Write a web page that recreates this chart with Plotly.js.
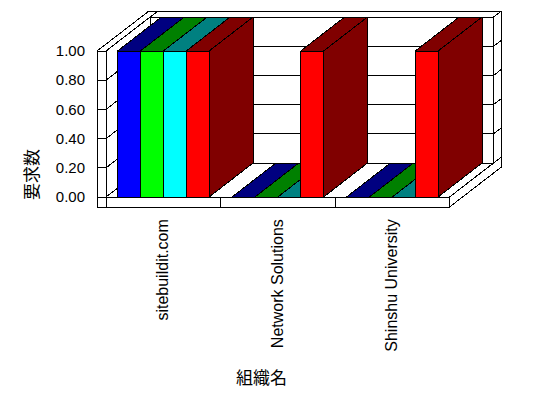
<!DOCTYPE html>
<html>
<head>
<meta charset="utf-8">
<script src="https://cdn.plot.ly/plotly-3.0.1.min.js"></script>
<style>
  html, body { margin: 0; padding: 0; background: #fff; }
  #chart { width: 548px; height: 398px; }
  .scatterlayer path { shape-rendering: crispEdges; }
</style>
</head>
<body>
<div id="chart"></div>
<script>
// ---- data ----
const categories = ['sitebuildit.com', 'Network Solutions', 'Shinshu University'];
const series1 = [1, 0, 0];
const series2 = [1, 0, 0];
const series3 = [1, 0, 0];
const series4 = [1, 1, 1];
const yTickVals = [0, 0.2, 0.4, 0.6, 0.8, 1.0];
const yTickText = ['0.00', '0.20', '0.40', '0.60', '0.80', '1.00'];
const xTitle = '組織名';
const yTitle = '要求数';

// ---- styles ----
const frontColors = ['#0000FF', '#00FF00', '#00FFFF', '#FF0000'];
const darkColors  = ['#000080', '#008000', '#008080', '#800000'];
const seriesList = [series1, series2, series3, series4];

// geometry (in axis units)
const DX = 0.384, DY = 0.2329;      // depth of bars / back-wall front plane
const TX = 0.066, TY = 0.039;       // back-wall slab thickness
const WALL = 0.0786;                // left wall thickness
const FLOOR = 0.0685;               // floor thickness
const GROUP = 0.8;
const nS = seriesList.length;
const BW = GROUP / nS;
const x0c = -0.5, x1c = categories.length - 0.5;
const yTop = yTickVals[yTickVals.length - 1];

const traces = [];
function poly(xs, ys, fill) {
  traces.push({
    type: 'scatter', mode: 'lines',
    x: xs.concat([xs[0]]), y: ys.concat([ys[0]]),
    fill: fill ? 'toself' : 'none', fillcolor: fill || undefined,
    line: {color: '#000', width: 1},
    hoverinfo: 'skip', showlegend: false, cliponaxis: false
  });
}
function seg(xa, ya, xb, yb) {
  traces.push({
    type: 'scatter', mode: 'lines', x: [xa, xb], y: [ya, yb],
    line: {color: '#000', width: 1}, hoverinfo: 'skip', showlegend: false, cliponaxis: false
  });
}

// back wall slab
poly([x0c + DX, x1c + DX, x1c + DX, x0c + DX], [DY, DY, yTop + DY, yTop + DY], '#FFFFFF');
poly([x0c + DX, x1c + DX, x1c + DX + TX, x0c + DX + TX],
     [yTop + DY, yTop + DY, yTop + DY + TY, yTop + DY + TY], '#FFFFFF');
poly([x1c + DX, x1c + DX + TX, x1c + DX + TX, x1c + DX],
     [DY, DY + TY, yTop + DY + TY, yTop + DY], '#FFFFFF');
yTickVals.forEach(v => {
  seg(x0c + DX, v + DY, x1c + DX, v + DY);
  seg(x1c + DX, v + DY, x1c + DX + TX, v + DY + TY);
});

// floor slab
poly([x0c, x1c, x1c + DX, x0c + DX], [0, 0, DY, DY], '#FFFFFF');
poly([x0c - WALL, x1c, x1c, x0c - WALL], [-FLOOR, -FLOOR, 0, 0], '#FFFFFF');
poly([x1c, x1c + DX, x1c + DX + TX, x1c + DX + TX, x1c],
     [0, DY, DY + TY, DY + TY - FLOOR, -FLOOR], '#FFFFFF');
for (let i = 1; i < categories.length; i++) seg(x0c + i, -FLOOR, x0c + i, 0);

// left wall slab
poly([x0c, x0c, x0c + DX, x0c + DX], [0, yTop, yTop + DY, DY], '#FFFFFF');
poly([x0c - WALL, x0c, x0c + DX + TX, x0c - WALL + DX + TX],
     [yTop, yTop, yTop + DY + TY, yTop + DY + TY], '#FFFFFF');
poly([x0c - WALL, x0c, x0c, x0c - WALL], [-FLOOR, -FLOOR, yTop, yTop], '#FFFFFF');
yTickVals.forEach(v => {
  seg(x0c - WALL, v, x0c, v);
  seg(x0c, v, x0c + DX, v + DY);
});

// bars, left to right
categories.forEach((c, i) => {
  seriesList.forEach((s, k) => {
    const v = s[i];
    const xa = i - GROUP / 2 + k * BW, xb = xa + BW;
    poly([xa, xb, xb, xa], [0, 0, v, v], frontColors[k]);
    poly([xa, xb, xb + DX, xa + DX], [v, v, v + DY, v + DY], darkColors[k]);
    poly([xb, xb, xb + DX, xb + DX], [0, v, v + DY, DY], darkColors[k]);
  });
});

const layout = {
  width: 548, height: 398,
  margin: {l: 90, r: 28, t: 5, b: 183},
  paper_bgcolor: '#FFFFFF', plot_bgcolor: '#FFFFFF',
  font: {family: 'Liberation Sans, Arial, sans-serif', size: 15, color: '#000'},
  showlegend: false,
  xaxis: {
    range: [-0.6402, 3.1153], tickvals: categories.map((c, i) => i), ticktext: categories,
    tickangle: -90, showgrid: false, zeroline: false, showline: false, ticks: '',
    tickfont: {size: 16}, fixedrange: true
  },
  yaxis: {
    range: [-0.1233, 1.3151], tickvals: yTickVals, ticktext: yTickText,
    showgrid: false, zeroline: false, showline: false, ticks: '',
    ticklabelstandoff: 4,
    tickfont: {size: 15}, fixedrange: true
  },
  annotations: [
    {text: yTitle, xref: 'paper', yref: 'paper', x: -0.1395, y: 0.19, textangle: -90,
     xanchor: 'center', yanchor: 'middle',
     showarrow: false, font: {family: 'Noto Sans CJK JP', size: 17, color: '#000'}},
    {text: xTitle, xref: 'paper', yref: 'paper', x: 0.3977, y: -0.767,
     xanchor: 'center', yanchor: 'middle',
     showarrow: false, font: {family: 'Noto Sans CJK JP', size: 17, color: '#000'}}
  ]
};

Plotly.newPlot('chart', traces, layout, {staticPlot: true, displayModeBar: false});
</script>
</body>
</html>
